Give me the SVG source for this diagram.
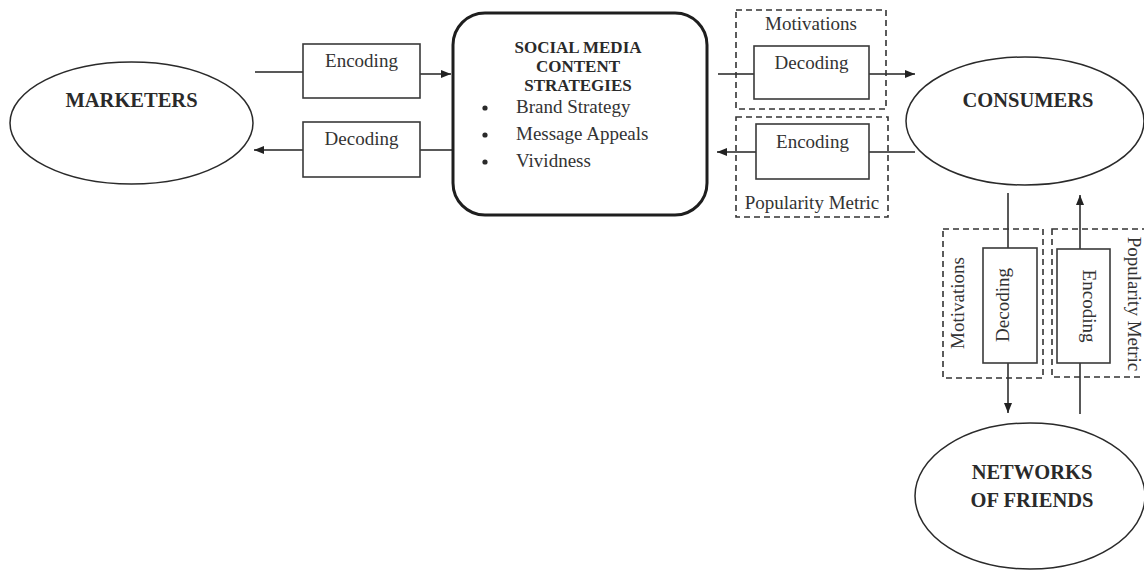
<svg xmlns="http://www.w3.org/2000/svg" width="1144" height="570" viewBox="0 0 1144 570">
  <style>
    .node { fill: #fff; stroke: #2a2a2a; stroke-width: 1.5; }
    .box { fill: #fff; stroke: #3a3a3a; stroke-width: 1.6; }
    .dash { fill: none; stroke: #333; stroke-width: 1.6; stroke-dasharray: 6 4; }
    .link { fill: none; stroke: #222; stroke-width: 1.5; }
    .arrow { marker-end: url(#head); }
    .title { font-family: "Liberation Serif", "Times New Roman", serif; font-weight: bold; font-size: 20.5px; fill: #2a2a2a; text-anchor: middle; }
    .head { font-family: "Liberation Serif", "Times New Roman", serif; font-weight: bold; font-size: 17px; fill: #2a2a2a; text-anchor: middle; }
    .lbl { font-family: "Liberation Serif", "Times New Roman", serif; font-size: 19px; fill: #333; text-anchor: middle; }
    .item { font-family: "Liberation Serif", "Times New Roman", serif; font-size: 19px; fill: #333; }
  </style>
  <defs>
    <marker id="head" viewBox="0 0 10 8" refX="10" refY="4" markerWidth="10" markerHeight="8" markerUnits="userSpaceOnUse" orient="auto">
      <path d="M0,0 L10,4 L0,8 Z" fill="#222"/>
    </marker>
  </defs>
  <rect width="1144" height="570" fill="#fff"/>

  <!-- connectors -->
  <g id="connectors">
    <!-- marketers to content strategies -->
    <line class="link" x1="255" y1="72" x2="303" y2="72"/>
    <line class="link arrow" x1="420" y1="74" x2="451" y2="74"/>
    <!-- content strategies back to marketers -->
    <line class="link" x1="453" y1="150" x2="420" y2="150"/>
    <line class="link arrow" x1="303" y1="150" x2="254" y2="150"/>
    <!-- content strategies to consumers -->
    <line class="link" x1="718" y1="74" x2="754" y2="74"/>
    <line class="link arrow" x1="869" y1="74" x2="915" y2="74"/>
    <!-- consumers back to content strategies -->
    <line class="link" x1="915" y1="152" x2="869" y2="152"/>
    <line class="link arrow" x1="756" y1="152" x2="717" y2="152"/>
    <!-- consumers to networks of friends -->
    <line class="link" x1="1008" y1="193" x2="1008" y2="248"/>
    <line class="link arrow" x1="1008" y1="363" x2="1008" y2="413"/>
    <!-- networks of friends back to consumers -->
    <line class="link" x1="1080" y1="414" x2="1080" y2="363"/>
    <line class="link arrow" x1="1080" y1="249" x2="1080" y2="195"/>
  </g>

  <g id="marketers">
    <ellipse class="node" cx="131.5" cy="123" rx="121.5" ry="61"/>
    <text class="title" x="131.5" y="107">MARKETERS</text>
  </g>

  <g id="encoding-left">
    <rect class="box" x="303" y="44" width="117" height="54"/>
    <text class="lbl" x="361.5" y="67">Encoding</text>
  </g>

  <g id="decoding-left">
    <rect class="box" x="303" y="122" width="117" height="55"/>
    <text class="lbl" x="361.5" y="145">Decoding</text>
  </g>

  <g id="content-strategies">
    <rect x="453" y="13" width="254" height="202" rx="32" ry="32" fill="#fff" stroke="#1e1e1e" stroke-width="3"/>
    <text class="head" x="578" y="53">SOCIAL MEDIA</text>
    <text class="head" x="578" y="72">CONTENT</text>
    <text class="head" x="578" y="91">STRATEGIES</text>
    <circle cx="485" cy="108" r="2.6" fill="#2a2a2a"/>
    <circle cx="485" cy="135" r="2.6" fill="#2a2a2a"/>
    <circle cx="485" cy="162" r="2.6" fill="#2a2a2a"/>
    <text class="item" x="516" y="113">Brand Strategy</text>
    <text class="item" x="516" y="140">Message Appeals</text>
    <text class="item" x="516" y="167">Vividness</text>
  </g>

  <g id="motivations-top">
    <rect class="dash" x="736" y="10" width="150" height="99"/>
    <text class="lbl" x="811" y="30">Motivations</text>
    <rect class="box" x="754" y="46" width="115" height="53"/>
    <text class="lbl" x="811.5" y="69">Decoding</text>
  </g>

  <g id="popularity-top">
    <rect class="dash" x="736" y="117" width="152" height="100"/>
    <rect class="box" x="756" y="124" width="113" height="55"/>
    <text class="lbl" x="812.5" y="148">Encoding</text>
    <text class="lbl" x="812" y="209">Popularity Metric</text>
  </g>

  <g id="consumers">
    <ellipse class="node" cx="1025" cy="121" rx="119" ry="64"/>
    <text class="title" x="1028" y="107">CONSUMERS</text>
  </g>

  <g id="motivations-side">
    <rect class="dash" x="943" y="229" width="100" height="149"/>
    <text class="lbl" transform="translate(964,303) rotate(-90)">Motivations</text>
    <rect class="box" x="983" y="248" width="54" height="115"/>
    <text class="lbl" transform="translate(1009,305) rotate(-90)">Decoding</text>
  </g>

  <g id="popularity-side">
    <rect class="dash" x="1052" y="229" width="100" height="148"/>
    <rect class="box" x="1057" y="249" width="53" height="114"/>
    <text class="lbl" transform="translate(1083,306) rotate(90)">Encoding</text>
    <text class="lbl" transform="translate(1128,304) rotate(90)">Popularity Metric</text>
  </g>

  <g id="networks">
    <ellipse class="node" cx="1030" cy="496" rx="115" ry="73"/>
    <text class="title" x="1032" y="479">NETWORKS</text>
    <text class="title" x="1032" y="507">OF FRIENDS</text>
  </g>
</svg>
